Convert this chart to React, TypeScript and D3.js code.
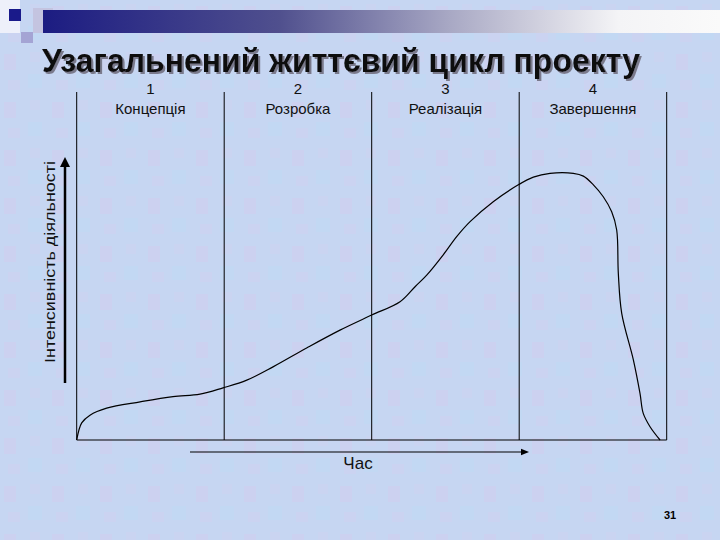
import React from "react";
import * as d3 from "d3";

const title = "Узагальнений життєвий цикл проекту";
const phaseNumbers = ["1", "2", "3", "4"];
const phaseNames = ["Концепція", "Розробка", "Реалізація", "Завершення"];
const phaseBounds = [0, 1, 2, 3, 4];
const yLabel = "Інтенсивність діяльності";
const xLabel = "Час";
const pageNumber = "31";

// activity intensity over time (time in phase units, intensity 0..100)
const timeValues = [0, 0.034, 0.09, 0.203, 0.43, 0.653, 0.836, 0.992, 1.153, 1.331, 1.559, 1.785, 2.0, 2.192, 2.294, 2.373, 2.485, 2.576, 2.667, 2.824, 2.994, 3.096, 3.209, 3.367, 3.435, 3.503, 3.57, 3.627, 3.661, 3.672, 3.695, 3.774, 3.819, 3.841, 3.887, 3.955];
const intensityValues = [0, 4.9, 7.1, 9.1, 10.9, 12.4, 13.1, 14.9, 17.1, 20.9, 26.3, 31.4, 35.7, 39.5, 43.8, 47.1, 52.9, 58.1, 62.4, 68.1, 72.9, 75.1, 76.2, 76.2, 75.4, 72.9, 69.5, 65.2, 60, 47.6, 36.2, 22.9, 13.3, 7.6, 3.8, 0];

export default function App() {
  const W = 720, H = 540;
  const x = d3.scaleLinear().domain([0, 4]).range([76.7, 666.7]);
  const y = d3.scaleLinear().domain([0, 100]).range([440, 90]);
  const pts = timeValues.map((t, i) => [t, intensityValues[i]] as [number, number]);
  const line = d3.line<[number, number]>().x(d => x(d[0])).y(d => y(d[1])).curve(d3.curveCatmullRom.alpha(0.5));
  const font = "'Liberation Sans', Arial, sans-serif";

  return (
    <svg width={W} height={H} style={{ position: "absolute", left: 0, top: 0, display: "block" }} fontFamily={font}>
      <defs>
        <linearGradient id="bar" x1="0" x2="1" y1="0" y2="0">
          <stop offset="0" stopColor="#1c1c82" />
          <stop offset="0.35" stopColor="#50508e" />
          <stop offset="0.6" stopColor="#a8a8c4" />
          <stop offset="0.85" stopColor="#f4f4f6" />
          <stop offset="1" stopColor="#fafafa" />
        </linearGradient>
        <pattern id="tex" width="48" height="48" patternUnits="userSpaceOnUse">
          <rect width="48" height="48" fill="#c6d6f2" />
          <rect x="4" y="6" width="12" height="16" fill="#d4cdee" opacity="0.45" />
          <rect x="28" y="26" width="14" height="14" fill="#bcdcf4" opacity="0.45" />
          <rect x="30" y="4" width="10" height="10" fill="#cfd2f0" opacity="0.4" />
          <rect x="8" y="32" width="12" height="10" fill="#d2cdee" opacity="0.35" />
        </pattern>
        <filter id="shadow" x="-5%" y="-20%" width="110%" height="150%">
          <feDropShadow dx="2" dy="2" stdDeviation="0.4" floodColor="#7a7a8c" floodOpacity="1" />
        </filter>
        <marker id="arrowY" viewBox="0 0 10 10" refX="5" refY="5" markerWidth="4" markerHeight="4" orient="auto">
          <path d="M0,0 L10,5 L0,10 z" fill="#000" />
        </marker>
        <marker id="arrowX" viewBox="0 0 10 10" refX="5" refY="5" markerWidth="7" markerHeight="7" orient="auto">
          <path d="M0,1 L10,5 L0,9 z" fill="#000" />
        </marker>
      </defs>
      <rect width={W} height={H} fill="url(#tex)" />

      {/* top decoration */}
      <rect x={0} y={0} width={20} height={33} fill="#eef0fa" />
      <rect x={33} y={8} width={20} height={25} fill="#c4c4e0" />
      <rect x={21} y={32} width={12} height={11} fill="#a4a4d4" />
      <rect x={43} y={10} width={677} height={23} fill="url(#bar)" />
      <rect x={9} y={9} width={12} height={12} fill="#1a1a8a" />

      {/* title */}
      <text x={42} y={72} fontSize={33} fontWeight="bold" fill="#111" filter="url(#shadow)" textLength={598} lengthAdjust="spacingAndGlyphs">{title}</text>

      {/* phase labels */}
      {phaseNames.map((n, i) => {
        const cx = (x(phaseBounds[i]) + x(phaseBounds[i + 1])) / 2;
        return (
          <g key={n}>
            <text x={cx} y={94} fontSize={15} textAnchor="middle" fill="#111">{phaseNumbers[i]}</text>
            <text x={cx} y={114} fontSize={15} textAnchor="middle" fill="#111">{n}</text>
          </g>
        );
      })}

      {/* phase boundaries */}
      {phaseBounds.map(b => (
        <line key={b} x1={x(b)} x2={x(b)} y1={92} y2={y(0)} stroke="#000" strokeWidth={1} />
      ))}
      <line x1={x(0)} x2={x(4)} y1={y(0)} y2={y(0)} stroke="#000" strokeWidth={1.2} />

      {/* curve */}
      <path d={line(pts) || ""} fill="none" stroke="#000" strokeWidth={1.2} />

      {/* y arrow and label */}
      <line x1={65} x2={65} y1={383} y2={162} stroke="#000" strokeWidth={2.5} markerEnd="url(#arrowY)" />
      <text transform="translate(55,262) rotate(-90)" fontSize={15} textAnchor="middle" fill="#111" textLength={202} lengthAdjust="spacingAndGlyphs">{yLabel}</text>

      {/* x arrow and label */}
      <line x1={190} x2={525} y1={452} y2={452} stroke="#000" strokeWidth={1.2} markerEnd="url(#arrowX)" />
      <text x={358} y={469} fontSize={17} textAnchor="middle" fill="#111">{xLabel}</text>

      {/* page number */}
      <text x={670} y={519} fontSize={11} fontWeight="bold" textAnchor="middle" fill="#000">{pageNumber}</text>
    </svg>
  );
}
